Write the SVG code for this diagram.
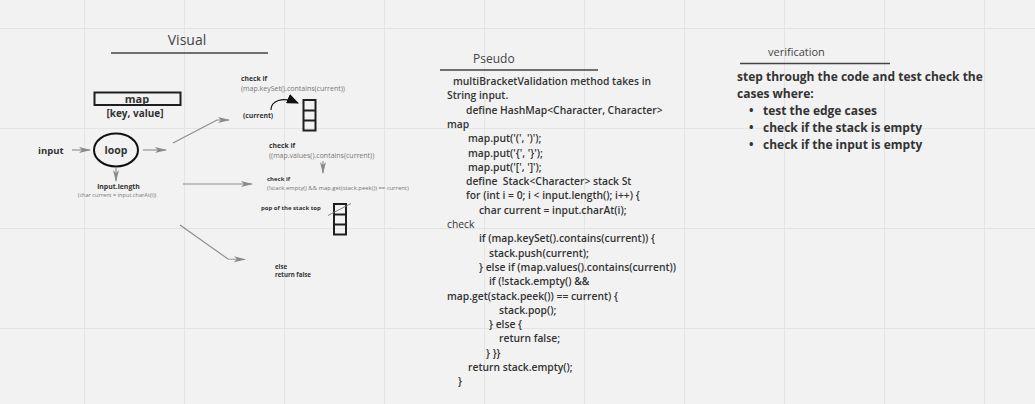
<svg xmlns="http://www.w3.org/2000/svg" width="1035" height="404" viewBox="0 0 1035 404">
<defs>
<marker id="ga" markerWidth="12" markerHeight="8" refX="11" refY="4" orient="auto" markerUnits="userSpaceOnUse"><path d="M0,1 L12,4 L0,7 L3,4 Z" fill="#8a8a8a"/></marker>
<marker id="ba" markerWidth="12" markerHeight="10" refX="11" refY="5" orient="auto" markerUnits="userSpaceOnUse"><path d="M0,0 L12,5 L0,10 Z" fill="#111"/></marker>
<style>
text{font-family:"Open Sans","Liberation Sans",sans-serif;fill:#333}
.t{font-size:14px;fill:#444}
.b{font-weight:bold}
.code{font-size:10.3px;font-weight:600}
.sm{font-size:6.8px;font-weight:bold}
.tiny{font-size:7px;fill:#777}
.ver{font-size:12px;font-weight:bold}
.gl{stroke:#e4e4e4;stroke-width:1}
.ul{stroke:#444;stroke-width:1.4}
.con{stroke:#8a8a8a;stroke-width:1.1;fill:none}
.stk{fill:none;stroke:#1e1e1e;stroke-width:2}
</style>
</defs>
<rect width="1035" height="404" fill="#f2f2f2"/>
<g id="grid">
<path class="gl" d="M84.5,0V404M184.5,0V404M284.5,0V404M384.5,0V404M484.5,0V404M584.5,0V404M684.5,0V404M784.5,0V404M884.5,0V404M984.5,0V404M0,28.5H1035M0,128.5H1035M0,228.5H1035M0,328.5H1035"/>
</g>
<g id="visual-title">
<text class="t" x="187" y="45" text-anchor="middle">Visual</text>
<line class="ul" x1="111" y1="53" x2="268" y2="53"/>
</g>
<g id="map">
<rect x="94.5" y="92.5" width="86" height="12.5" fill="none" stroke="#1e1e1e" stroke-width="2"/>
<text x="137" y="103" text-anchor="middle" class="b" font-size="11">map</text>
<text x="135" y="117" text-anchor="middle" class="b" font-size="10">[key, value]</text>
</g>
<g id="input"><text x="38" y="154" class="b" font-size="9.5">input</text></g>
<g id="loop">
<ellipse cx="116" cy="150" rx="22" ry="16.5" fill="none" stroke="#111" stroke-width="2"/>
<text x="116" y="153.5" text-anchor="middle" class="b" font-size="10.5">loop</text>
</g>
<g id="input-length">
<text x="118.5" y="189" text-anchor="middle" class="b" font-size="6.9">input.length</text>
<text x="117" y="197" text-anchor="middle" style="fill:#777" font-size="5.6">(char current = input.charAt(i))</text>
</g>
<g id="check-keyset">
<text x="241" y="81" class="sm">check if</text>
<text x="241" y="91" class="tiny">(map.keySet().contains(current))</text>
<text x="243" y="118" class="sm">(current)</text>
</g>
<g id="stack1">
<rect class="stk" x="303.5" y="100" width="12" height="30.5"/>
<line class="stk" x1="303.5" y1="110.5" x2="315.5" y2="110.5"/>
<line class="stk" x1="303.5" y1="120.5" x2="315.5" y2="120.5"/>
</g>
<g id="check-values">
<text x="269" y="148" class="sm">check if</text>
<text x="269" y="157.5" class="tiny">((map.values().contains(current))</text>
</g>
<g id="check-peek">
<text x="267" y="181" class="b" font-size="6">check if</text>
<text x="267" y="189.5" style="fill:#777" font-size="5.9">(!stack.empty() &amp;&amp; map.get(stack.peek()) == current)</text>
</g>
<g id="pop">
<text x="261" y="210" class="b" font-size="6">pop of the stack top</text>
</g>
<g id="stack2">
<rect class="stk" x="334" y="204" width="12" height="30.5"/>
<line class="stk" x1="334" y1="214.5" x2="346" y2="214.5"/>
<line class="stk" x1="334" y1="224.5" x2="346" y2="224.5"/>
<line x1="328" y1="215.5" x2="351" y2="203.5" stroke="#777" stroke-width="0.9"/>
</g>
<g id="else">
<text x="275" y="268.5" class="b" font-size="6.1">else</text>
<text x="275" y="276.5" class="b" font-size="6.1">return false</text>
</g>
<g id="connectors">
<line class="con" x1="72" y1="150" x2="90" y2="150" marker-end="url(#ga)"/>
<line class="con" x1="143" y1="150" x2="166" y2="150" marker-end="url(#ga)"/>
<line class="con" x1="116" y1="168" x2="116" y2="181" marker-end="url(#ga)"/>
<polyline class="con" points="173,143 217,120 229,120" marker-end="url(#ga)"/>
<line class="con" x1="183" y1="184" x2="252" y2="184" marker-end="url(#ga)"/>
<polyline class="con" points="180,225 228,259 245,259.5" marker-end="url(#ga)"/>
<line class="con" x1="323" y1="161" x2="323" y2="173" marker-end="url(#ga)"/>
<path d="M271,110 C271,101 282,96 298,103" fill="none" stroke="#111" stroke-width="1.1" marker-end="url(#ba)"/>
</g>
<g id="pseudo">
<text x="473" y="63" font-size="12" style="fill:#444">Pseudo</text>
<line class="ul" x1="440" y1="70" x2="598" y2="70"/>
<text class="code" x="453" y="85">multiBracketValidation method takes in</text>
<text class="code" x="447" y="99.3">String input.</text>
<text class="code" x="466" y="113.6">define HashMap&lt;Character, Character&gt;</text>
<text class="code" x="447" y="127.9">map</text>
<text class="code" x="468" y="142.2">map.put('(', ')');</text>
<text class="code" x="468" y="156.5">map.put('{', '}');</text>
<text class="code" x="468" y="170.8">map.put('[', ']');</text>
<text class="code" x="466" y="185.1" xml:space="preserve">define  Stack&lt;Character&gt; stack St</text>
<text class="code" x="466" y="199.4">for (int i = 0; i &lt; input.length(); i++) {</text>
<text class="code" x="479" y="213.7">char current = input.charAt(i);</text>
<text class="code" x="447" y="228" style="font-weight:normal">check</text>
<text class="code" x="479" y="242.3">if (map.keySet().contains(current)) {</text>
<text class="code" x="489" y="256.6">stack.push(current);</text>
<text class="code" x="479" y="270.9">} else if (map.values().contains(current))</text>
<text class="code" x="489" y="285.2">if (!stack.empty() &amp;&amp;</text>
<text class="code" x="447" y="299.5">map.get(stack.peek()) == current) {</text>
<text class="code" x="499" y="313.8">stack.pop();</text>
<text class="code" x="489" y="328.1">} else {</text>
<text class="code" x="499" y="342.4">return false;</text>
<text class="code" x="486" y="356.7">} }}</text>
<text class="code" x="468" y="371">return stack.empty();</text>
<text class="code" x="458" y="385.3">}</text>
</g>
<g id="verification">
<text x="768" y="56" font-size="11" style="fill:#444">verification</text>
<line class="ul" x1="740" y1="63.5" x2="890" y2="63.5"/>
<text class="ver" x="737" y="81">step through the code and test check the</text>
<text class="ver" x="737" y="98">cases where:</text>
<text class="ver" x="749" y="115">•</text>
<text class="ver" x="763" y="115">test the edge cases</text>
<text class="ver" x="749" y="132">•</text>
<text class="ver" x="763" y="132">check if the stack is empty</text>
<text class="ver" x="749" y="149">•</text>
<text class="ver" x="763" y="149">check if the input is empty</text>
</g>
</svg>
